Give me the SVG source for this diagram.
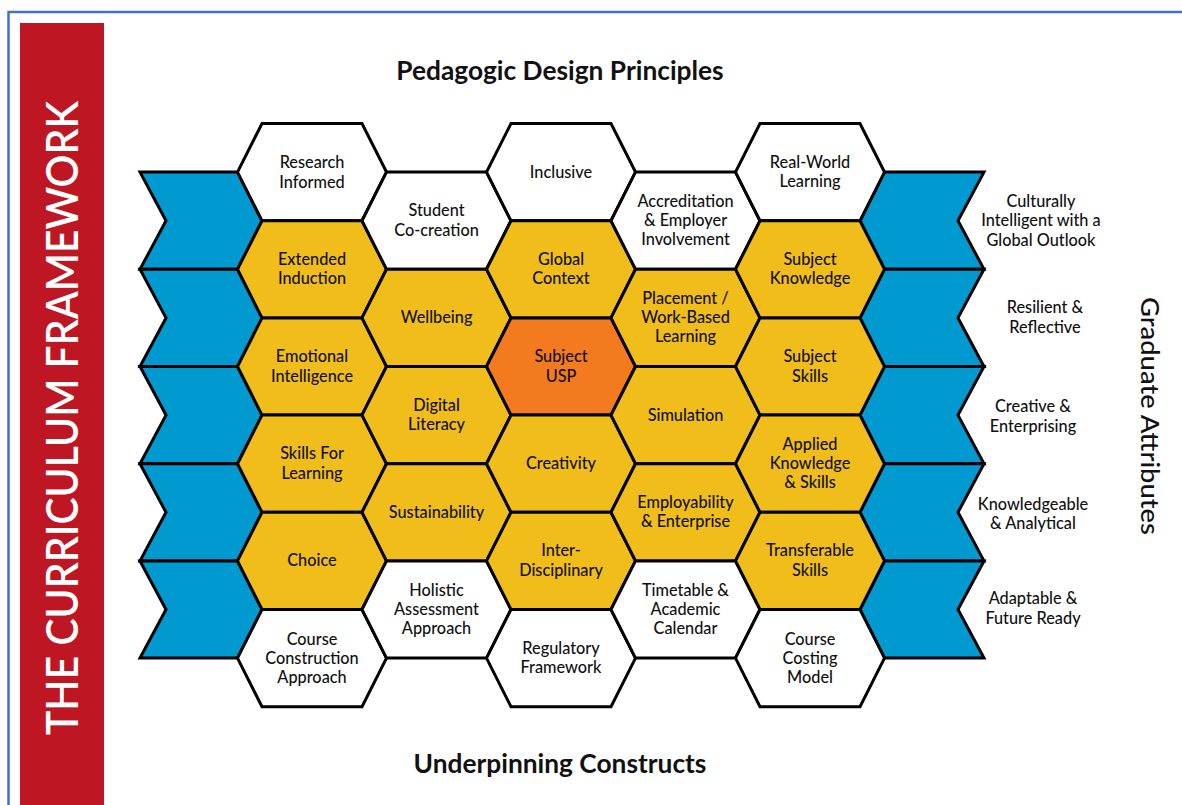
<svg xmlns="http://www.w3.org/2000/svg" xmlns:xlink="http://www.w3.org/1999/xlink" width="1182" height="805" viewBox="0 0 1182 805">
<style>
.t{font-family:Lato,"Liberation Sans",sans-serif;font-size:16.3px;font-weight:500;fill:#111;text-anchor:middle}
.h{stroke:#000;stroke-width:3;stroke-linejoin:miter}
.w{fill:#fff}.y{fill:#F0BD1B}.o{fill:#F47A20}
.ch{fill:#0099D0;stroke:#000;stroke-width:3;stroke-linejoin:miter}
.title{font-family:Lato,"Liberation Sans",sans-serif;font-size:26.3px;font-weight:bold;fill:#111;text-anchor:middle}
</style>
<defs>
<polygon id="hex" points="-74.5,0 -50,-48.6 50,-48.6 74.5,0 50,48.6 -50,48.6"/>
</defs>
<rect x="0" y="0" width="1182" height="805" fill="#fff"/>
<rect x="8.5" y="12" width="1190" height="810" fill="none" stroke="#4472C4" stroke-width="2.5"/>
<g id="sidebar">
<rect x="20" y="23" width="84" height="790" fill="#BE1622"/>
<text transform="translate(78,418) rotate(-90)" font-family="Lato,'Liberation Sans',sans-serif" font-size="44" font-weight="600" fill="#fff" text-anchor="middle" textLength="634" lengthAdjust="spacingAndGlyphs">THE CURRICULUM FRAMEWORK</text>
</g>
<g id="titles">
<text class="title" x="560" y="80">Pedagogic Design Principles</text>
<text class="title" x="560" y="773">Underpinning Constructs</text>
<text transform="translate(1141,416) rotate(90)" font-family="Lato,'Liberation Sans',sans-serif" font-size="25" font-weight="500" fill="#111" text-anchor="middle" textLength="238" lengthAdjust="spacingAndGlyphs">Graduate Attributes</text>
</g>
<g id="chevrons-left">
<polygon class="ch" points="140,172.1 237.5,172.1 262,220.7 237.5,269.3 140,269.3 166,220.7"/>
<polygon class="ch" points="140,269.3 237.5,269.3 262,317.9 237.5,366.5 140,366.5 166,317.9"/>
<polygon class="ch" points="140,366.5 237.5,366.5 262,415.1 237.5,463.7 140,463.7 166,415.1"/>
<polygon class="ch" points="140,463.7 237.5,463.7 262,512.3 237.5,560.9 140,560.9 166,512.3"/>
<polygon class="ch" points="140,560.9 237.5,560.9 262,609.5 237.5,658.1 140,658.1 166,609.5"/>
</g>
<g id="chevrons-right">
<polygon class="ch" points="884.5,172.1 984,172.1 958,220.7 984,269.3 884.5,269.3 860,220.7"/>
<polygon class="ch" points="884.5,269.3 984,269.3 958,317.9 984,366.5 884.5,366.5 860,317.9"/>
<polygon class="ch" points="884.5,366.5 984,366.5 958,415.1 984,463.7 884.5,463.7 860,415.1"/>
<polygon class="ch" points="884.5,463.7 984,463.7 958,512.3 984,560.9 884.5,560.9 860,512.3"/>
<polygon class="ch" points="884.5,560.9 984,560.9 958,609.5 984,658.1 884.5,658.1 860,609.5"/>
</g>
<g id="graduate-attributes">
<text class="t"><tspan x="1041" y="206.5">Culturally</tspan><tspan x="1041" y="226">Intelligent with a</tspan><tspan x="1041" y="245.5">Global Outlook</tspan></text>
<text class="t"><tspan x="1045" y="313">Resilient &amp;</tspan><tspan x="1045" y="332.5">Reflective</tspan></text>
<text class="t"><tspan x="1033" y="412">Creative &amp;</tspan><tspan x="1033" y="431.5">Enterprising</tspan></text>
<text class="t"><tspan x="1033" y="509.5">Knowledgeable</tspan><tspan x="1033" y="529">&amp; Analytical</tspan></text>
<text class="t"><tspan x="1033" y="604">Adaptable &amp;</tspan><tspan x="1033" y="623.5">Future Ready</tspan></text>
</g>
<g id="hexagons">
<g id="research-informed" transform="translate(312,172.1)"><use xlink:href="#hex" class="h w"/><text class="t"><tspan x="0" y="-4.5">Research</tspan><tspan x="0" y="15.5">Informed</tspan></text></g>
<g id="extended-induction" transform="translate(312,269.3)"><use xlink:href="#hex" class="h y"/><text class="t"><tspan x="0" y="-4.5">Extended</tspan><tspan x="0" y="15">Induction</tspan></text></g>
<g id="emotional-intelligence" transform="translate(312,366.5)"><use xlink:href="#hex" class="h y"/><text class="t"><tspan x="0" y="-4.5">Emotional</tspan><tspan x="0" y="15">Intelligence</tspan></text></g>
<g id="skills-for-learning" transform="translate(312,463.7)"><use xlink:href="#hex" class="h y"/><text class="t"><tspan x="0" y="-4.5">Skills For</tspan><tspan x="0" y="15">Learning</tspan></text></g>
<g id="choice" transform="translate(312,560.9)"><use xlink:href="#hex" class="h y"/><text class="t" x="0" y="5.5">Choice</text></g>
<g id="course-construction" transform="translate(312,658.1)"><use xlink:href="#hex" class="h w"/><text class="t"><tspan x="0" y="-13.5">Course</tspan><tspan x="0" y="5.5">Construction</tspan><tspan x="0" y="24.5">Approach</tspan></text></g>

<g id="student-co-creation" transform="translate(436.5,220.7)"><use xlink:href="#hex" class="h w"/><text class="t"><tspan x="0" y="-4.5">Student</tspan><tspan x="0" y="15">Co-creation</tspan></text></g>
<g id="wellbeing" transform="translate(436.5,317.9)"><use xlink:href="#hex" class="h y"/><text class="t" x="0" y="5.5">Wellbeing</text></g>
<g id="digital-literacy" transform="translate(436.5,415.1)"><use xlink:href="#hex" class="h y"/><text class="t"><tspan x="0" y="-4.5">Digital</tspan><tspan x="0" y="15">Literacy</tspan></text></g>
<g id="sustainability" transform="translate(436.5,512.3)"><use xlink:href="#hex" class="h y"/><text class="t" x="0" y="5.5">Sustainability</text></g>
<g id="holistic-assessment" transform="translate(436.5,609.5)"><use xlink:href="#hex" class="h w"/><text class="t"><tspan x="0" y="-13.5">Holistic</tspan><tspan x="0" y="5.5">Assessment</tspan><tspan x="0" y="24.5">Approach</tspan></text></g>

<g id="inclusive" transform="translate(561,172.1)"><use xlink:href="#hex" class="h w"/><text class="t" x="0" y="5.5">Inclusive</text></g>
<g id="global-context" transform="translate(561,269.3)"><use xlink:href="#hex" class="h y"/><text class="t"><tspan x="0" y="-4.5">Global</tspan><tspan x="0" y="15">Context</tspan></text></g>
<g id="subject-usp" transform="translate(561,366.5)"><use xlink:href="#hex" class="h o"/><text class="t"><tspan x="0" y="-4.5">Subject</tspan><tspan x="0" y="15">USP</tspan></text></g>
<g id="creativity" transform="translate(561,463.7)"><use xlink:href="#hex" class="h y"/><text class="t" x="0" y="5.5">Creativity</text></g>
<g id="inter-disciplinary" transform="translate(561,560.9)"><use xlink:href="#hex" class="h y"/><text class="t"><tspan x="0" y="-4.5">Inter-</tspan><tspan x="0" y="15">Disciplinary</tspan></text></g>
<g id="regulatory-framework" transform="translate(561,658.1)"><use xlink:href="#hex" class="h w"/><text class="t"><tspan x="0" y="-4.5">Regulatory</tspan><tspan x="0" y="15">Framework</tspan></text></g>

<g id="accreditation" transform="translate(685.5,220.7)"><use xlink:href="#hex" class="h w"/><text class="t"><tspan x="0" y="-13.5">Accreditation</tspan><tspan x="0" y="5.5">&amp; Employer</tspan><tspan x="0" y="24.5">Involvement</tspan></text></g>
<g id="placement" transform="translate(685.5,317.9)"><use xlink:href="#hex" class="h y"/><text class="t"><tspan x="0" y="-13.5">Placement /</tspan><tspan x="0" y="5.5">Work-Based</tspan><tspan x="0" y="24.5">Learning</tspan></text></g>
<g id="simulation" transform="translate(685.5,415.1)"><use xlink:href="#hex" class="h y"/><text class="t" x="0" y="5.5">Simulation</text></g>
<g id="employability" transform="translate(685.5,512.3)"><use xlink:href="#hex" class="h y"/><text class="t"><tspan x="0" y="-4.5">Employability</tspan><tspan x="0" y="15">&amp; Enterprise</tspan></text></g>
<g id="timetable" transform="translate(685.5,609.5)"><use xlink:href="#hex" class="h w"/><text class="t"><tspan x="0" y="-13.5">Timetable &amp;</tspan><tspan x="0" y="5.5">Academic</tspan><tspan x="0" y="24.5">Calendar</tspan></text></g>

<g id="real-world-learning" transform="translate(810,172.1)"><use xlink:href="#hex" class="h w"/><text class="t"><tspan x="0" y="-4.5">Real-World</tspan><tspan x="0" y="15">Learning</tspan></text></g>
<g id="subject-knowledge" transform="translate(810,269.3)"><use xlink:href="#hex" class="h y"/><text class="t"><tspan x="0" y="-4.5">Subject</tspan><tspan x="0" y="15">Knowledge</tspan></text></g>
<g id="subject-skills" transform="translate(810,366.5)"><use xlink:href="#hex" class="h y"/><text class="t"><tspan x="0" y="-4.5">Subject</tspan><tspan x="0" y="15">Skills</tspan></text></g>
<g id="applied-knowledge" transform="translate(810,463.7)"><use xlink:href="#hex" class="h y"/><text class="t"><tspan x="0" y="-13.5">Applied</tspan><tspan x="0" y="5.5">Knowledge</tspan><tspan x="0" y="24.5">&amp; Skills</tspan></text></g>
<g id="transferable-skills" transform="translate(810,560.9)"><use xlink:href="#hex" class="h y"/><text class="t"><tspan x="0" y="-4.5">Transferable</tspan><tspan x="0" y="15">Skills</tspan></text></g>
<g id="course-costing" transform="translate(810,658.1)"><use xlink:href="#hex" class="h w"/><text class="t"><tspan x="0" y="-13.5">Course</tspan><tspan x="0" y="5.5">Costing</tspan><tspan x="0" y="24.5">Model</tspan></text></g>
</g>
<g id="connectors"/>
</svg>
